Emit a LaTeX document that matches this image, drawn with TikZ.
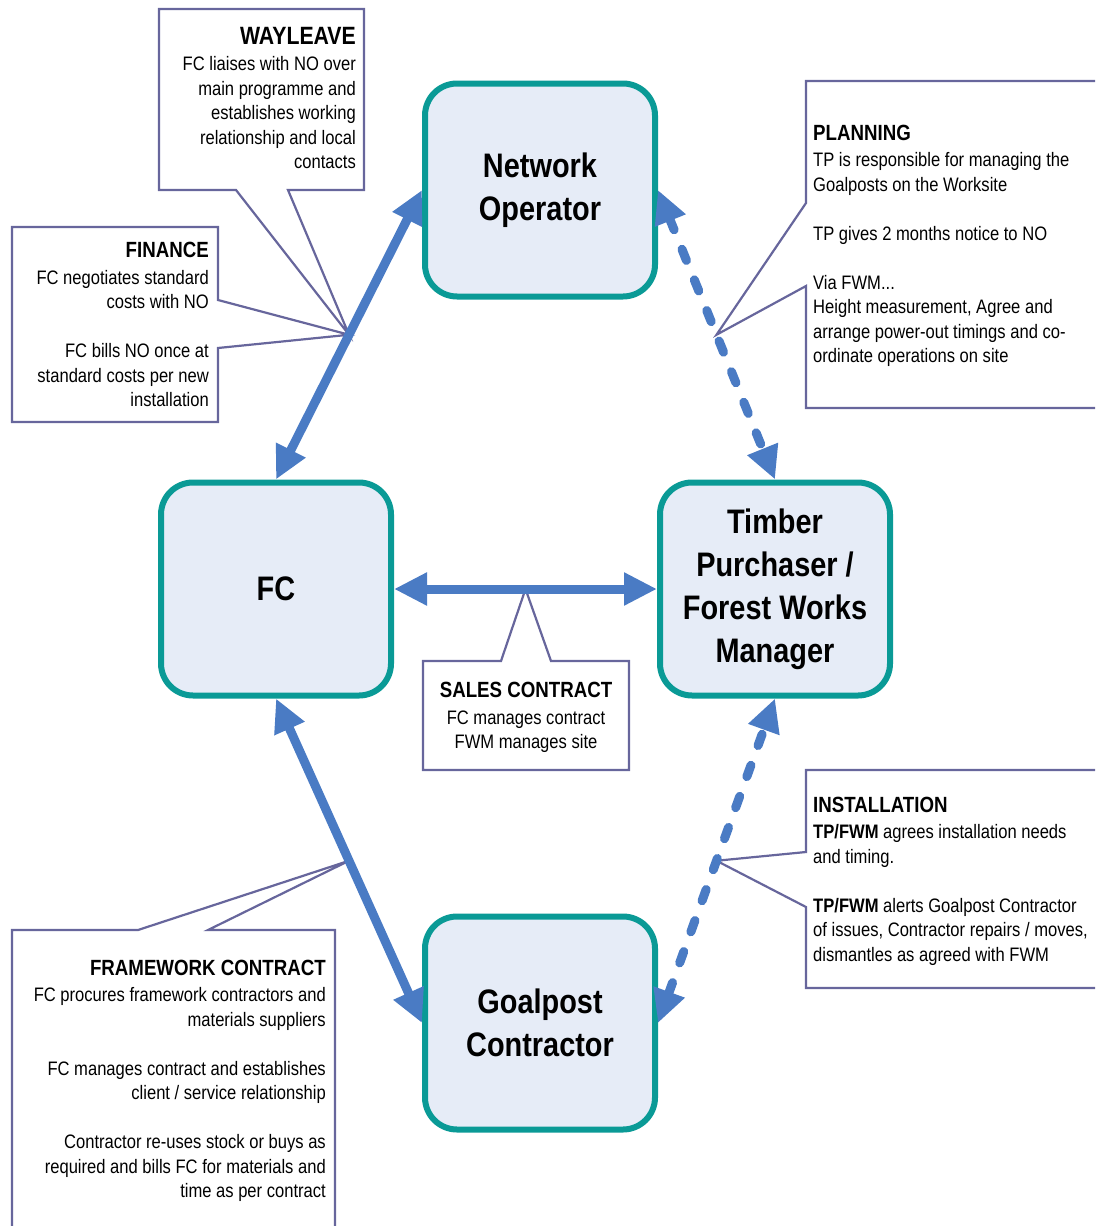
\documentclass[tikz,border=0pt]{standalone}
\usepackage{fontspec}
\setmainfont[FakeStretch=0.85]{Liberation Sans}
\usetikzlibrary{arrows.meta,calc}
\definecolor{flowblue}{HTML}{4A7BC4}
\definecolor{boxteal}{HTML}{0A9A96}
\definecolor{boxfill}{HTML}{E6ECF7}
\definecolor{noteline}{HTML}{67669C}
\newcommand\notehead[2][22]{{\bfseries\fontsize{#1}{24.5}\selectfont #2}}

\begin{document}
\begin{tikzpicture}[x=1pt, y=-1pt,
    party/.style={draw=boxteal, line width=6pt, fill=boxfill, rounded corners=32pt,
        minimum width=230pt, minimum height=213pt, align=center,
        font=\bfseries\fontsize{34}{43}\selectfont},
    link/.style={flowblue, line width=9pt,
        {Triangle[length=33pt,width=31pt]}-{Triangle[length=33pt,width=31pt]}},
    loose link/.style={link, dash pattern=on 12pt off 21pt, line cap=round},
    note/.style={draw=noteline, line width=2.2pt, fill=white},
    notetext/.style={inner sep=0pt, font=\fontsize{19.5}{24.5}\selectfont}]
    \useasboundingbox (0,0) rectangle (1095,1226);
    \clip (0,0) rectangle (1095,1226);

    \node[party] (no) at (540,190) {Network\\Operator};
    \node[party] (fc) at (276,589) {FC};
    \node[party] (tp) at (775,589) {Timber\\Purchaser /\\Forest Works\\Manager};
    \node[party] (gc) at (540,1023) {Goalpost\\Contractor};

    \coordinate (nwtip) at ($(fc.north)!0.5!(no.west)$);
    \coordinate (netip) at ($(no.east)!0.5!(tp.north)$);
    \coordinate (ctip) at ($(fc.east)!0.5!(tp.west)$);
    \coordinate (setip) at ($(gc.east)!0.5!(tp.south)$);
    \coordinate (swtip) at ($(fc.south)!0.5!(gc.west)$);

    \draw[note] (159,9) -- (364,9) -- (364,190) -- (288,190) -- (nwtip) -- (236,190) -- (159,190) -- cycle;
    \draw[note] (12,227) -- (218,227) -- (218,300) -- (nwtip) -- (218,348) -- (218,422) -- (12,422) -- cycle;
    \draw[note] (1100,81) -- (806,81) -- (806,203) -- (netip) -- (806,286) -- (806,408) -- (1100,408);
    \draw[note] (423,661) -- (501,661) -- (ctip) -- (551,661) -- (629,661) -- (629,770) -- (423,770) -- cycle;
    \draw[note] (1100,770) -- (806,770) -- (806,852) -- (setip) -- (806,907) -- (806,988) -- (1100,988);
    \draw[note] (12,1240) -- (12,930) -- (138,930) -- (swtip) -- (208,930) -- (335,930) -- (335,1240);

    \node[notetext, anchor=north east, align=right] (wayleave) at (356,27)
        {\notehead[25]{WAYLEAVE}\\[2pt] FC liaises with NO over\\ main programme and\\ establishes working\\ relationship and local\\ contacts};
    \node[notetext, anchor=north east, align=right] (finance) at (209,242)
        {\notehead{FINANCE}\\[2pt] FC negotiates standard\\ costs with NO\\[24.5pt] FC bills NO once at\\ standard costs per new\\ installation};
    \node[notetext, anchor=north west, align=left] (planning) at (813,124.5)
        {\notehead{PLANNING}\\[2pt] TP is responsible for managing the\\ Goalposts on the Worksite\\[24.5pt] TP gives 2 months notice to NO\\[24.5pt] Via FWM...\\ Height measurement, Agree and\\ arrange power-out timings and co-\\ ordinate operations on site};
    \node[notetext, anchor=north, align=center] (sales) at (526,682)
        {\notehead{SALES CONTRACT}\\[2pt] FC manages contract\\ FWM manages site};
    \node[notetext, anchor=north west, align=left] (install) at (813,796.5)
        {\notehead{INSTALLATION}\\[2pt] \textbf{TP/FWM} agrees installation needs\\ and timing.\\[24.5pt] \textbf{TP/FWM} alerts Goalpost Contractor\\ of issues, Contractor repairs / moves,\\ dismantles as agreed with FWM};
    \node[notetext, anchor=north east, align=right] (framework) at (326,959.5)
        {\notehead{FRAMEWORK CONTRACT}\\[2pt] FC procures framework contractors and\\ materials suppliers\\[24.5pt] FC manages contract and establishes\\ client / service relationship\\[24.5pt] Contractor re-uses stock or buys as\\ required and bills FC for materials and\\ time as per contract};

    \draw[link] (fc.north) -- (no.west);
    \draw[loose link] (no.east) -- (tp.north);
    \draw[link] (fc.east) -- (tp.west);
    \draw[link] (fc.south) -- (gc.west);
    \draw[loose link] (gc.east) -- (tp.south);
\end{tikzpicture}
\end{document}
